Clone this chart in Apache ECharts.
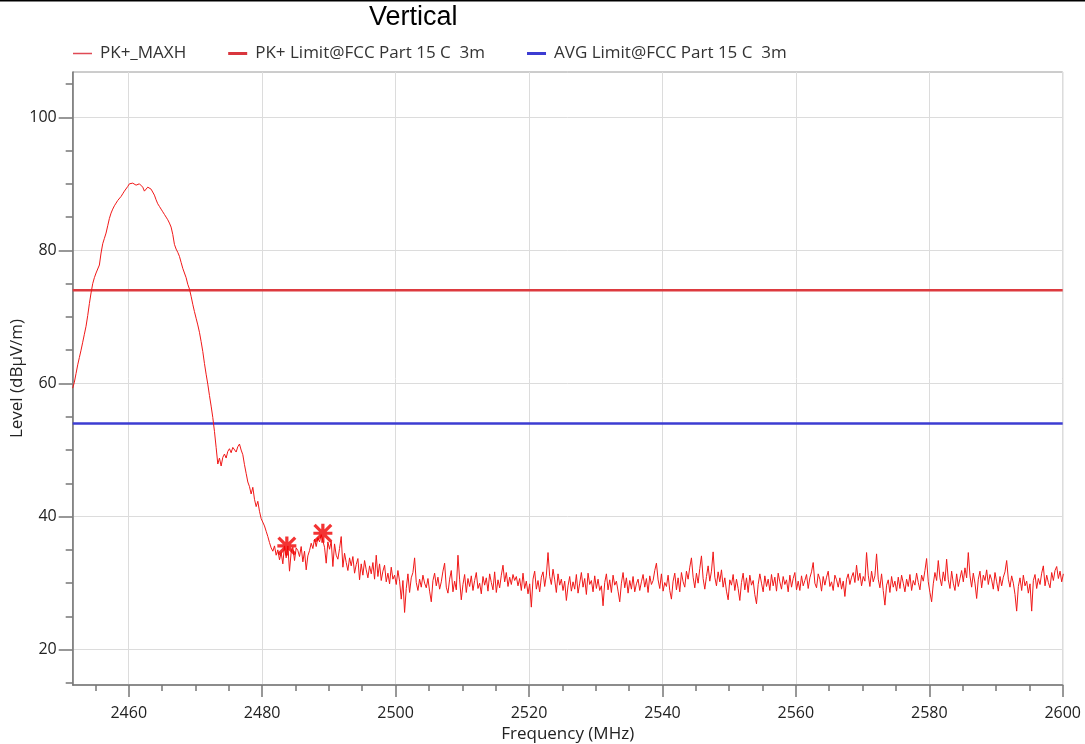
<!DOCTYPE html>
<html>
<head>
<meta charset="utf-8">
<title>Vertical</title>
<script src="https://cdn.jsdelivr.net/npm/echarts@6/dist/echarts.min.js"></script>
<style>
    html, body { margin: 0; padding: 0; background: #fff; }
    #chart { width: 1085px; height: 744px; }
</style>
</head>
<body>
<div id="chart"></div>
<script>
// sweep: start frequency and step (MHz), one level per step (dBuV/m)
var sweepStart = 2451.6;
var sweepStep = 0.25;
var levels = [
    59.3, 60.2, 61.5, 62.8, 63.9, 65.0, 66.2, 67.4, 68.6, 70.2, 72.0, 73.6, 75.0, 75.9, 76.6, 77.2, 77.8, 79.6, 81.0, 81.8,
    82.6, 83.7, 84.8, 85.6, 86.2, 86.7, 87.1, 87.5, 87.8, 88.1, 88.5, 88.9, 89.2, 89.6, 90.0, 90.3, 90.1, 90.3, 89.8, 89.6,
    90.0, 90.1, 89.5, 88.9, 89.2, 89.5, 89.4, 89.2, 88.9, 88.3, 87.6, 87.0, 86.6, 86.2, 85.8, 85.4, 85.0, 84.6, 84.1, 83.5,
    82.4, 80.9, 80.2, 79.7, 79.1, 78.2, 77.3, 76.6, 75.9, 74.9, 74.2, 73.1, 71.9, 70.8, 69.8, 68.8, 67.7, 66.3, 64.8, 63.0,
    61.4, 59.9, 58.2, 56.6, 54.9, 52.8, 50.4, 47.9, 48.8, 47.6, 48.9, 49.4, 48.8, 49.8, 50.2, 49.6, 50.4, 50.1, 49.7, 50.5,
    50.9, 50.0, 49.3, 47.8, 46.5, 45.2, 44.5, 43.4, 44.4, 42.6, 41.5, 42.3, 40.8, 39.7, 39.9, 38.6, 37.8, 37.0, 36.1, 35.3,
    34.8, 35.6, 34.2, 35.0, 33.5, 34.6, 32.9, 35.6, 33.8, 35.6, 31.8, 34.7, 35.4, 33.4, 35.3, 34.9, 34.0, 35.5, 33.2, 34.8,
    32.0, 34.1, 34.9, 36.0, 35.2, 36.6, 35.5, 36.8, 36.2, 37.3, 37.5, 35.4, 33.0, 36.2, 35.1, 36.3, 32.5, 35.9, 34.2, 33.6,
    35.2, 37.0, 32.4, 34.5, 33.1, 31.9, 33.8, 32.6, 34.0, 31.5, 32.8, 33.7, 30.5, 32.9, 31.2, 33.4, 32.0, 30.8, 32.6, 31.4,
    33.1, 30.6, 34.2, 31.0, 32.9, 30.4, 31.8, 32.7, 30.2, 31.5, 29.9, 32.4, 30.6, 31.2, 29.8, 31.9, 30.3, 27.6, 30.4, 25.6,
    29.2, 31.4, 28.6, 30.8, 31.6, 33.8, 30.1, 28.9, 30.6, 29.4, 31.2, 30.0, 29.3, 30.7, 28.8, 27.2, 30.4, 31.5, 29.6, 30.9,
    29.1, 30.2, 31.8, 33.0, 29.4, 28.5, 30.6, 31.9, 28.7, 30.3, 29.0, 34.2, 30.5, 27.5, 29.8, 31.3, 28.6, 30.7, 29.5, 31.1,
    28.9, 30.4, 31.6, 29.2, 30.0, 28.4, 31.0, 29.7, 30.8, 28.8, 31.4, 30.1, 29.0, 31.7, 28.6, 30.5, 29.3, 31.2, 32.7, 30.2,
    31.6, 29.5, 30.9, 29.8, 31.3, 30.4, 31.0, 29.6, 30.7, 28.9, 31.5, 29.2, 30.3, 28.4, 29.9, 26.4, 30.6, 31.8, 29.1, 30.4,
    28.7, 30.9, 31.7, 29.5, 31.2, 34.6, 31.0, 29.8, 32.1, 30.5, 28.6, 31.4, 29.7, 30.6, 28.9, 30.3, 27.4, 29.6, 31.0, 28.8,
    30.2, 29.1, 31.3, 28.5, 30.0, 31.6, 29.4, 30.7, 28.3, 31.5, 29.8, 30.4, 28.7, 31.1, 29.2, 30.6, 28.9, 29.6, 26.6, 30.1,
    31.4, 29.0, 30.5, 28.6, 31.2, 29.7, 30.3, 28.8, 27.2, 30.0, 31.6, 29.3, 30.8, 28.5, 30.4, 29.1, 31.0, 28.7, 29.9, 30.6,
    28.9, 30.2, 31.3, 29.4, 30.7, 28.6, 31.1, 29.8, 30.4, 31.9, 33.0, 30.5, 29.2, 31.4, 28.8, 30.1, 29.5, 31.2, 28.9, 27.6,
    30.3, 31.5, 29.0, 30.8, 28.7, 31.6, 30.2, 29.4, 31.8, 30.6, 32.4, 33.8, 30.9, 29.3, 31.5, 30.0, 32.2, 34.1, 30.7, 29.1,
    31.0, 32.6, 30.3, 31.8, 34.7, 30.9, 29.6, 31.7, 30.2, 32.0, 29.4, 30.8, 28.8, 27.5, 30.5, 29.7, 31.3, 28.9, 30.6, 29.2,
    27.4, 30.1, 31.5, 29.0, 30.8, 28.6, 31.2, 29.7, 30.4, 28.3, 26.9, 29.8, 31.4, 30.0, 28.7, 31.1, 29.5, 30.6, 28.9, 31.3,
    29.6, 30.9, 28.8, 31.5, 30.2, 29.1, 31.0, 29.8, 30.5, 28.7, 31.2, 29.4, 30.7, 31.6, 29.0, 30.3, 28.9, 31.1, 29.6, 30.4,
    31.3, 29.2, 30.8, 31.7, 33.1, 30.0, 29.3, 31.4, 30.6, 28.8, 31.0, 29.7, 30.9, 31.8, 29.5, 30.2, 28.9, 31.2, 30.5, 29.4,
    30.8, 29.1, 30.3, 28.0, 30.6, 31.4, 29.8, 30.9, 31.6, 30.1, 32.7, 30.4, 31.5, 29.6, 31.0, 30.3, 34.6, 31.2, 29.5, 31.8,
    30.2, 31.1, 34.4, 30.6, 29.3, 31.4, 28.9, 26.7, 29.7, 30.5, 28.6, 31.0, 29.4, 30.3, 28.8, 30.9, 29.2, 31.2, 30.0, 28.7,
    30.6, 29.5, 31.3, 28.9, 30.4, 29.7, 31.5, 30.1, 29.0, 31.2, 30.3, 31.9, 33.7, 30.2, 28.6, 27.2, 29.9, 31.6, 30.4, 33.4,
    30.8, 29.6, 31.7, 30.3, 33.6, 30.5, 29.2, 31.8, 30.0, 28.9, 31.4, 29.5, 30.7, 31.9, 30.2, 32.3, 30.8, 34.6, 31.1, 29.4,
    31.5, 30.0, 27.7, 30.6, 31.8, 29.3, 31.2, 30.4, 32.0, 29.8, 31.3, 30.5, 29.1, 31.6, 30.2, 28.8, 31.0, 29.6, 30.9, 31.7,
    33.4, 30.6, 29.4, 31.1, 30.0, 28.3, 25.8, 29.5, 30.8, 28.9, 31.2, 29.6, 30.3, 28.5, 29.9, 25.8, 30.4, 31.3, 29.2, 30.7,
    29.8, 31.5, 32.6, 29.6, 31.2, 30.1, 29.3, 31.6, 30.4, 31.9, 32.5, 30.7, 31.8, 30.2, 31.4
];

// peak markers
var markerFreqs = [2483.7, 2489.1];
var markerLevels = [35.6, 37.5];

// limit lines
var pkLimit = 74;
var avgLimit = 54;

// axes
var freqMin = 2451.6;
var freqMax = 2600;
var levelMin = 14.7;
var levelMax = 106.8;
var freqMajorTicks = [2460, 2480, 2500, 2520, 2540, 2560, 2580, 2600];
var freqMinorTicks = [2455, 2465, 2470, 2475, 2485, 2490, 2495, 2505, 2510, 2515, 2525, 2530, 2535,
    2545, 2550, 2555, 2565, 2570, 2575, 2585, 2590, 2595];
var levelMajorTicks = [20, 40, 60, 80, 100];
var levelMinorTicks = [15, 25, 30, 35, 45, 50, 55, 65, 70, 75, 85, 90, 95, 105];

var traceName = 'PK+_MAXH';
var pkName = 'PK+ Limit@FCC Part 15 C  3m';
var avgName = 'AVG Limit@FCC Part 15 C  3m';

var uiFont = '"Open Sans", "Noto Sans", sans-serif';

function buildTrace() {
    var data = [];
    for (var i = 0; i < levels.length; i++) {
        data.push([+(sweepStart + i * sweepStep).toFixed(2), levels[i]]);
    }
    return data;
}

function buildMarkers() {
    var data = [];
    for (var i = 0; i < markerFreqs.length; i++) {
        data.push([markerFreqs[i], markerLevels[i]]);
    }
    return data;
}

function plainNumber(v) {
    return String(v);
}

// asterisk: horizontal, vertical and two diagonal bars
var starPath = 'path://M0,8.3L20,8.3L20,11.7L0,11.7Z M8.3,0L11.7,0L11.7,20L8.3,20Z ' +
    'M0,2.4L2.4,0L20,17.6L17.6,20Z M17.6,0L20,2.4L2.4,20L0,17.6Z';

// legend icons: a line inside a 22x10 box (tiny corner specks keep the box size)
function legendLine(thickness) {
    var y0 = 5 - thickness / 2;
    return 'path://M0,0h0.01v0.01h-0.01Z M0,' + y0 + 'h19v' + thickness + 'h-19Z M21.99,9.99h0.01v0.01h-0.01Z';
}

var chart = echarts.init(document.getElementById('chart'));

var option = {
    animation: false,
    backgroundColor: '#fff',
    title: {
        text: 'Vertical',
        left: 364,
        top: -1,
        textStyle: {fontFamily: '"Liberation Sans", Arial, sans-serif', fontSize: 27, fontWeight: 'normal', color: '#000'}
    },
    legend: {
        left: 68,
        top: 40,
        itemWidth: 22,
        itemHeight: 10,
        itemGap: 42,
        data: [
            {name: traceName, icon: legendLine(1.5), itemStyle: {color: '#e04a55', borderWidth: 0}},
            {name: pkName, icon: legendLine(3), itemStyle: {color: '#d9363e', borderWidth: 0}},
            {name: avgName, icon: legendLine(3), itemStyle: {color: '#3c3cd2', borderWidth: 0}}
        ],
        textStyle: {fontFamily: uiFont, fontSize: 17, color: '#333'}
    },
    graphic: [{
        type: 'rect',
        shape: {x: 0, y: 0, width: 1085, height: 1.5},
        style: {fill: '#000'}
    }],
    grid: {
        left: 72.7,
        right: 22.3,
        top: 72,
        bottom: 59,
        outerBoundsMode: 'none',
        containLabel: false,
        show: true,
        borderColor: '#9a9a9a',
        borderWidth: 1
    },
    xAxis: [{
        type: 'value',
        min: freqMin,
        max: freqMax,
        position: 'bottom',
        name: 'Frequency (MHz)',
        nameLocation: 'middle',
        nameGap: 41,
        nameTextStyle: {fontFamily: uiFont, fontSize: 17, color: '#222'},
        axisLine: {lineStyle: {color: '#777', width: 1.5}},
        axisTick: {show: true, length: 12, customValues: freqMajorTicks, lineStyle: {color: '#777', width: 1.5}},
        axisLabel: {customValues: freqMajorTicks, formatter: plainNumber, margin: 20, fontFamily: uiFont, fontSize: 16, color: '#222'},
        splitLine: {show: true, lineStyle: {color: '#dcdcdc', width: 1}}
    }, {
        type: 'value',
        min: freqMin,
        max: freqMax,
        position: 'bottom',
        axisLine: {show: false},
        axisTick: {show: true, length: 6, customValues: freqMinorTicks, lineStyle: {color: '#777', width: 1.5}},
        axisLabel: {show: false},
        splitLine: {show: false}
    }],
    yAxis: [{
        type: 'value',
        min: levelMin,
        max: levelMax,
        position: 'left',
        name: 'Level (dB\u00b5V/m)',
        nameLocation: 'middle',
        nameGap: 47,
        nameMoveOverlap: false,
        nameTextStyle: {fontFamily: uiFont, fontSize: 17, color: '#222'},
        axisLine: {show: true, lineStyle: {color: '#777', width: 1.5}},
        axisTick: {show: true, length: 14, customValues: levelMajorTicks, lineStyle: {color: '#777', width: 1.5}},
        axisLabel: {customValues: levelMajorTicks, formatter: plainNumber, margin: 16, fontFamily: uiFont, fontSize: 16, color: '#222'},
        splitLine: {show: true, lineStyle: {color: '#dcdcdc', width: 1}}
    }, {
        type: 'value',
        min: levelMin,
        max: levelMax,
        position: 'left',
        axisLine: {show: false},
        axisTick: {show: true, length: 7, customValues: levelMinorTicks, lineStyle: {color: '#777', width: 1.5}},
        axisLabel: {show: false},
        splitLine: {show: false}
    }],
    series: [{
        name: traceName,
        type: 'line',
        xAxisIndex: 0,
        yAxisIndex: 0,
        symbol: 'none',
        data: buildTrace(),
        lineStyle: {color: '#f01818', width: 1},
        itemStyle: {color: '#e04a55'},
        z: 3
    }, {
        name: pkName,
        type: 'line',
        xAxisIndex: 0,
        yAxisIndex: 0,
        symbol: 'none',
        data: [[freqMin, pkLimit], [freqMax, pkLimit]],
        lineStyle: {color: '#dd3a3f', width: 2.5},
        itemStyle: {color: '#d9363e'},
        z: 2
    }, {
        name: avgName,
        type: 'line',
        xAxisIndex: 0,
        yAxisIndex: 0,
        symbol: 'none',
        data: [[freqMin, avgLimit], [freqMax, avgLimit]],
        lineStyle: {color: '#3c3cd2', width: 2.5},
        itemStyle: {color: '#3c3cd2'},
        z: 2
    }, {
        name: 'markers',
        type: 'scatter',
        xAxisIndex: 0,
        yAxisIndex: 0,
        symbol: starPath,
        symbolSize: 19,
        data: buildMarkers(),
        itemStyle: {color: '#f00000'},
        z: 4
    }]
};

chart.setOption(option);
</script>
</body>
</html>
